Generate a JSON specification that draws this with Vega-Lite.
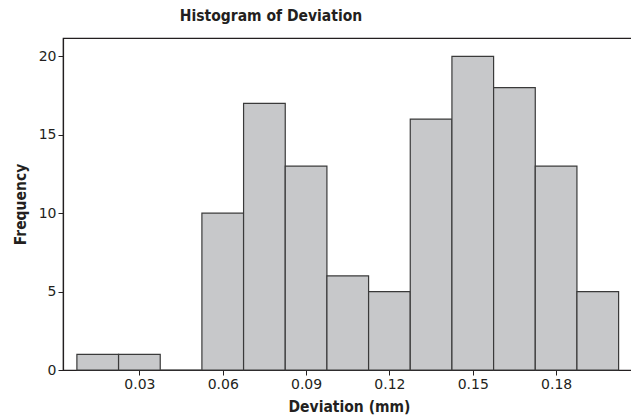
{
  "$schema": "https://vega.github.io/schema/vega-lite/v6.json",
  "autosize": {"type": "none"},
  "padding": {"left": 63, "top": 38, "right": 0, "bottom": 47},
  "width": 572,
  "height": 332,
  "background": "white",
  "title": {
    "text": "Histogram of Deviation",
    "anchor": "middle",
    "dx": -78,
    "baseline": "alphabetic",
    "offset": 2,
    "font": "DejaVu Sans Condensed",
    "fontSize": 15.5,
    "fontWeight": "bold",
    "color": "#231f20"
  },
  "config": {
    "view": {"stroke": "#231f20", "strokeWidth": 1.2},
    "axis": {
      "labelFont": "DejaVu Sans",
      "labelFontSize": 14,
      "labelColor": "#231f20",
      "titleFont": "DejaVu Sans Condensed",
      "titleFontSize": 15.5,
      "titleFontWeight": "bold",
      "titleColor": "#231f20",
      "domainColor": "#231f20",
      "domainWidth": 1.2,
      "tickColor": "#231f20",
      "tickSize": 5,
      "grid": false
    }
  },
  "data": {
    "values": [
      {"start": 0.0075, "end": 0.0225, "count": 1},
      {"start": 0.0225, "end": 0.0375, "count": 1},
      {"start": 0.0375, "end": 0.0525, "count": 0},
      {"start": 0.0525, "end": 0.0675, "count": 10},
      {"start": 0.0675, "end": 0.0825, "count": 17},
      {"start": 0.0825, "end": 0.0975, "count": 13},
      {"start": 0.0975, "end": 0.1125, "count": 6},
      {"start": 0.1125, "end": 0.1275, "count": 5},
      {"start": 0.1275, "end": 0.1425, "count": 16},
      {"start": 0.1425, "end": 0.1575, "count": 20},
      {"start": 0.1575, "end": 0.1725, "count": 18},
      {"start": 0.1725, "end": 0.1875, "count": 13},
      {"start": 0.1875, "end": 0.2025, "count": 5}
    ]
  },
  "mark": {"type": "rect", "fill": "#c7c8ca", "stroke": "#3a3a3a", "strokeWidth": 1.2},
  "encoding": {
    "x": {
      "field": "start",
      "type": "quantitative",
      "scale": {"domain": [0.0025, 0.2084], "nice": false, "zero": false},
      "axis": {
        "values": [0.03, 0.06, 0.09, 0.12, 0.15, 0.18],
        "format": ".2f",
        "title": "Deviation (mm)",
        "labelPadding": 2,
        "titleY": 41,
        "titleBaseline": "alphabetic"
      }
    },
    "x2": {"field": "end"},
    "y": {
      "field": "count",
      "type": "quantitative",
      "scale": {"domain": [0, 21.17], "nice": false},
      "axis": {
        "values": [0, 5, 10, 15, 20],
        "title": "Frequency",
        "labelPadding": 2,
        "titleX": -43,
        "titleY": 166,
        "titleAngle": 270,
        "titleAlign": "center",
        "titleBaseline": "middle"
      }
    },
    "y2": {"datum": 0}
  }
}
